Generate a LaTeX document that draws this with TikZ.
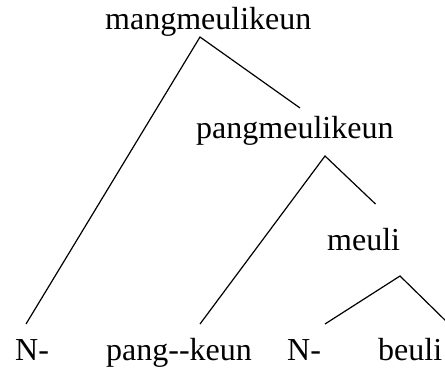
\documentclass[tikz,border=0pt]{standalone}
\usepackage{fontspec}
\setmainfont{Liberation Serif}
\begin{document}
\begin{tikzpicture}[x=1bp,y=1bp,
  lbl/.style={anchor=base west,inner sep=0pt,font=\fontsize{32bp}{36bp}\selectfont},
  branch/.style={line width=1.2bp,black}]
\useasboundingbox (0,0) rectangle (445,369);
% labels
\node[lbl] (top) at (105,340) {mangmeulikeun};
\node[lbl] (mid) at (196,231) {pangmeulikeun};
\node[lbl] (low) at (327,119) {meuli};
\node[lbl] (n1) at (15,9) {N-};
\node[lbl] (pk) at (106,9) {pang-{}-keun};
\node[lbl] (n2) at (287,9) {N-};
\node[lbl] (be) at (378,9) {beuli};
% branch points
\coordinate (topapex) at (200,332);
\coordinate (n1end) at (26,45);
\coordinate (midend) at (300,261);
\coordinate (midapex) at (325,213);
\coordinate (pkend) at (200,45);
\coordinate (lowend) at (375.5,165);
\coordinate (lowapex) at (400,93);
\coordinate (n2end) at (325,45);
\coordinate (beend) at (449,45);
% branches
\draw[branch] (n1end) -- (topapex) -- (midend);
\draw[branch] (pkend) -- (midapex) -- (lowend);
\draw[branch] (n2end) -- (lowapex) -- (beend);
\end{tikzpicture}
\end{document}
